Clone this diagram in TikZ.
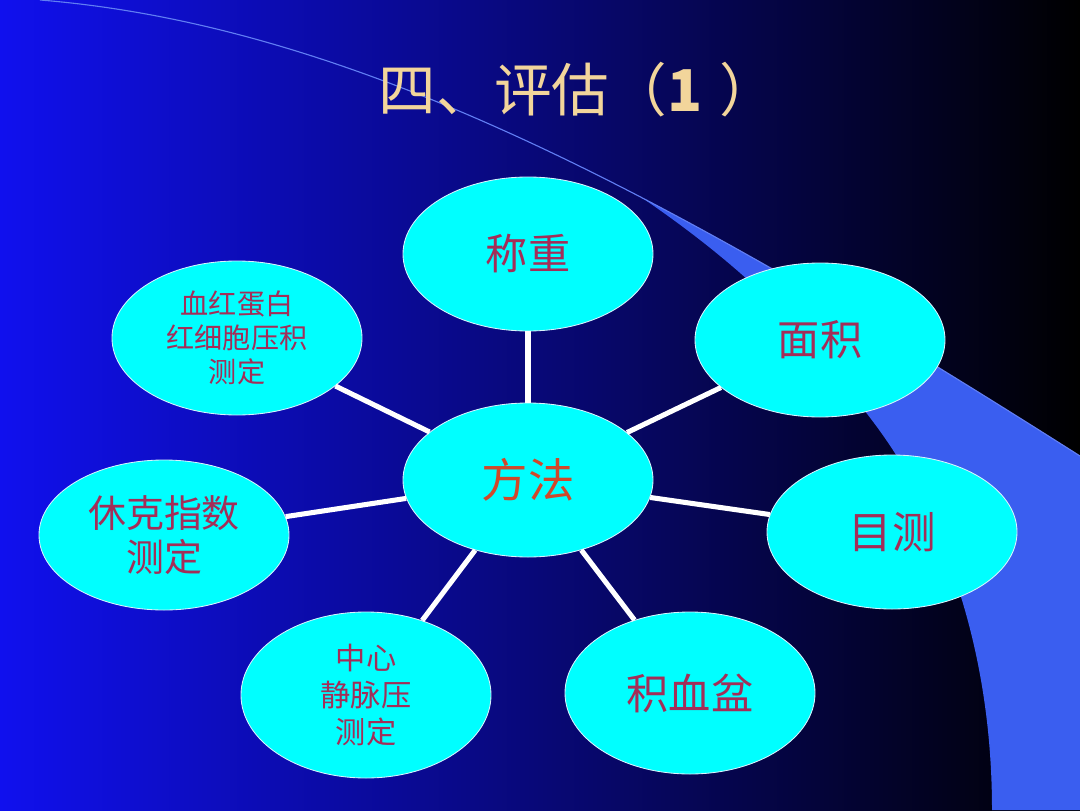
\documentclass[tikz,border=0pt]{standalone}
\usepackage{fontspec}
\setmainfont{Noto Sans CJK SC}
\usetikzlibrary{shapes.geometric}
\definecolor{slideblue}{HTML}{1010EE}
\definecolor{slidemid}{HTML}{0303A8}
\definecolor{bandblue}{HTML}{3A5EF0}
\definecolor{bubcyan}{HTML}{00FFFF}
\definecolor{labred}{HTML}{A32E58}
\definecolor{hubred}{HTML}{D0482A}
\definecolor{titlegold}{HTML}{F2D59B}
\newcommand{\fsz}[2]{\fontsize{#1}{#2}\selectfont}
\tikzset{
  bub/.style={ellipse, fill=bubcyan, draw=white!85!cyan, line width=0.6pt,
    minimum width=62.5mm, minimum height=38.5mm, inner sep=0pt, align=center,
    text=labred},
  hub/.style={bub, text=hubred},
  spoke/.style={draw=white, line width=3.6pt},
  ttl/.style={font=\fsz{41}{48}, text=titlegold, inner sep=0pt},
}
\begin{document}
\begin{tikzpicture}
    \useasboundingbox (0,0) rectangle (27,20.25);
    % slide background
    \shade[left color=slideblue, middle color=slidemid, right color=black]
      (0,0) rectangle (27,20.25);
    \begin{scope}
      \clip (1,20.25) .. controls (9,19.6) and (17,15.2) .. (27,8.85)
        -- (27,0) -- (0,0) -- (0,20.25) -- cycle;
      \fill[bandblue] (24.8,0) .. controls (24.8,4) and (23.6,7.5) .. (21.6,10)
        .. controls (20.0,12.3) and (17.8,14.3) .. (14.5,16.3)
        -- (27,20.25) -- (27,0) -- cycle;
    \end{scope}
    \draw[bandblue!80!white, line width=0.8pt]
      (1,20.25) .. controls (9,19.6) and (17,15.2) .. (27,8.85);
    % title
    \node[ttl] (ttl) at (14.45,18.0)
      {四、评估（\kern0pt\textbf{1}\hspace{0.3em}）};
    % hub
    \node[hub, font=\fsz{33}{38}] (fa) at (13.2,8.25) {方法};
    % outer nodes
    \node[bub, font=\fsz{30}{36}] (cz) at (13.2,13.9) {称重};
    \node[bub, font=\fsz{30}{36}] (mj) at (20.5,11.75) {面积};
    \node[bub, font=\fsz{31}{36}] (mc) at (22.3,6.95) {目测};
    \node[bub, font=\fsz{30}{36}, minimum height=40.5mm] (jxp) at (17.25,2.925) {积血盆};
    \node[bub, font=\fsz{21.5}{26}, minimum height=41.5mm] (zx) at (9.15,2.875)
      {中心\\静脉压\\测定};
    \node[bub, font=\fsz{27}{31}, minimum height=37.5mm] (xk) at (4.1,6.875)
      {休克指数\\测定};
    \node[bub, font=\fsz{20}{24}] (xh) at (5.925,11.8) {血红蛋白\\红细胞压积\\测定};
    % spokes
    \foreach \n in {cz,mj,mc,jxp,zx,xk,xh}
      \draw[spoke] (fa) -- (\n);
\end{tikzpicture}
\end{document}
